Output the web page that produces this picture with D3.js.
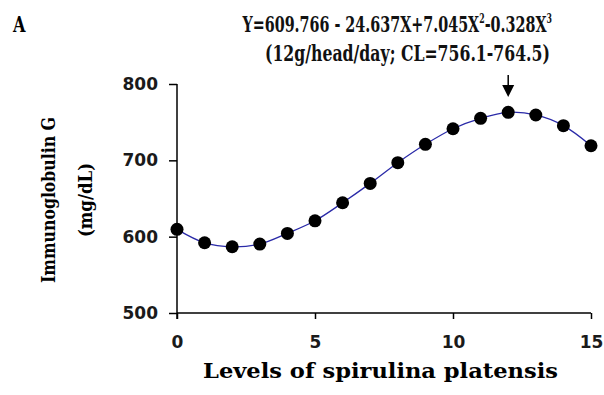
<!DOCTYPE html>
<html>
<head>
<meta charset="utf-8">
<script src="https://cdn.jsdelivr.net/npm/d3@7/dist/d3.min.js"></script>
<style>
  html, body { margin: 0; padding: 0; background: #fff; }
  svg { display: block; }
</style>
</head>
<body>
<svg id="chart" width="604" height="395"></svg>
<script>
// ---- data ----
const levels = [0,1,2,3,4,5,6,7,8,9,10,11,12,13,14,15];
const igG = [609.6,592,586.8,590.3,604.3,620.8,644.4,669.8,696.9,721,741.4,755,762.9,759.4,745.4,719.1];
const xTicks = [0,5,10,15];
const yTicks = [500,600,700,800];
const panelLabel = "A";
const equationParts = [["Y=609.766  - 24.637X+7.045X", false], ["2", true], ["-0.328X", false], ["3", true]];
const equationLine2 = "(12g/head/day; CL=756.1-764.5)";
const optimumLevel = 12;
const yTitle1 = "Immunoglobulin G";
const yTitle2 = "(mg/dL)";
const xTitle = "Levels of spirulina platensis";

// ---- layout ----
const svg = d3.select("#chart");
const x = d3.scaleLinear().domain([0,15]).range([177,591]);
const y = d3.scaleLinear().domain([500,800]).range([313,84]);

const tickFont = "'DejaVu Sans', Verdana, sans-serif";
const serifFont = "'DejaVu Serif Condensed', 'DejaVu Serif', 'Liberation Serif', serif";

function fitX(sel, x0, x1, baseY) {
  const w = sel.node().getBBox().width;
  const sx = (x1 - x0) / w;
  sel.attr("transform", `translate(${x0},${baseY}) scale(${sx},1)`);
}

// axes
const yAxis = svg.append("g").attr("transform", `translate(${x(0)},0)`)
  .call(d3.axisLeft(y).tickValues(yTicks).tickSize(8).tickPadding(11).tickFormat(d3.format("d")));
const xAxis = svg.append("g").attr("transform", `translate(0,${y(500)})`)
  .call(d3.axisBottom(x).tickValues(xTicks).tickSize(6).tickPadding(17).tickFormat(d3.format("d")));
[yAxis, xAxis].forEach(a => {
  a.select(".domain").attr("stroke", "#000").attr("stroke-width", 1.5);
  a.selectAll(".tick line").attr("stroke", "#000").attr("stroke-width", 1.5);
  a.selectAll(".tick text").attr("fill", "#1a1a1a").attr("font-family", tickFont)
    .attr("font-weight", "bold").attr("font-size", 17);
});
xAxis.select(".domain").attr("d", `M${x(0)},0H${x(15)}`);
yAxis.select(".domain").attr("d", `M0,${y(800)}V${y(500)}`);
svg.append("line").attr("x1", x(0)).attr("x2", x(0)).attr("y1", y(500)).attr("y2", y(500)+6)
  .attr("stroke", "#000").attr("stroke-width", 1.5);

// line
const line = d3.line().x((d,i) => x(levels[i])).y(d => y(d)).curve(d3.curveCatmullRom.alpha(0.5));
svg.append("path").datum(igG).attr("d", line).attr("fill", "none")
  .attr("stroke", "#2a2aa8").attr("stroke-width", 1.3);

// markers
svg.append("g").selectAll("circle").data(igG).join("circle")
  .attr("cx", (d,i) => x(levels[i])).attr("cy", d => y(d)).attr("r", 6.5).attr("fill", "#000");

// arrow at optimum
const ax = x(optimumLevel);
svg.append("line").attr("x1", ax).attr("x2", ax).attr("y1", 75).attr("y2", 86)
  .attr("stroke", "#000").attr("stroke-width", 1.5);
svg.append("path").attr("d", `M${ax-6},85L${ax+6},85L${ax},97Z`).attr("fill", "#000");

// panel label
const pl = svg.append("text").text(panelLabel)
  .attr("font-family", serifFont).attr("font-weight", "bold").attr("font-size", 23);
fitX(pl, 13, 27, 32);

// equation line 1
const eq = svg.append("text")
  .attr("font-family", serifFont).attr("font-weight", "bold").attr("font-size", 22).attr("fill", "#111");
let sup = false;
equationParts.forEach(([t, isSup]) => {
  const ts = eq.append("tspan").text(t);
  if (isSup && !sup) { ts.attr("dy", -9).attr("font-size", 12); sup = true; }
  else if (!isSup && sup) { ts.attr("dy", 9); sup = false; }
  else if (isSup) ts.attr("font-size", 12);
});
fitX(eq, 242.5, 553, 32);

// equation line 2
const eq2 = svg.append("text").text(equationLine2)
  .attr("font-family", serifFont).attr("font-weight", "bold").attr("font-size", 22).attr("fill", "#111");
fitX(eq2, 265, 550, 61);

// y titles (rotated)
svg.append("text").attr("transform", `translate(55,200) rotate(-90)`).attr("text-anchor", "middle")
  .attr("font-family", serifFont).attr("font-weight", "bold").attr("font-size", 18)
  .attr("textLength", 166).attr("lengthAdjust", "spacingAndGlyphs").text(yTitle1);
svg.append("text").attr("transform", `translate(92,200) rotate(-90)`).attr("text-anchor", "middle")
  .attr("font-family", serifFont).attr("font-weight", "bold").attr("font-size", 19)
  .attr("textLength", 74).attr("lengthAdjust", "spacingAndGlyphs").text(yTitle2);

// x title
svg.append("text").attr("x", 380.5).attr("y", 378).attr("text-anchor", "middle")
  .attr("font-family", serifFont).attr("font-weight", "bold").attr("font-size", 21)
  .attr("textLength", 355).attr("lengthAdjust", "spacingAndGlyphs").text(xTitle);
</script>
</body>
</html>
